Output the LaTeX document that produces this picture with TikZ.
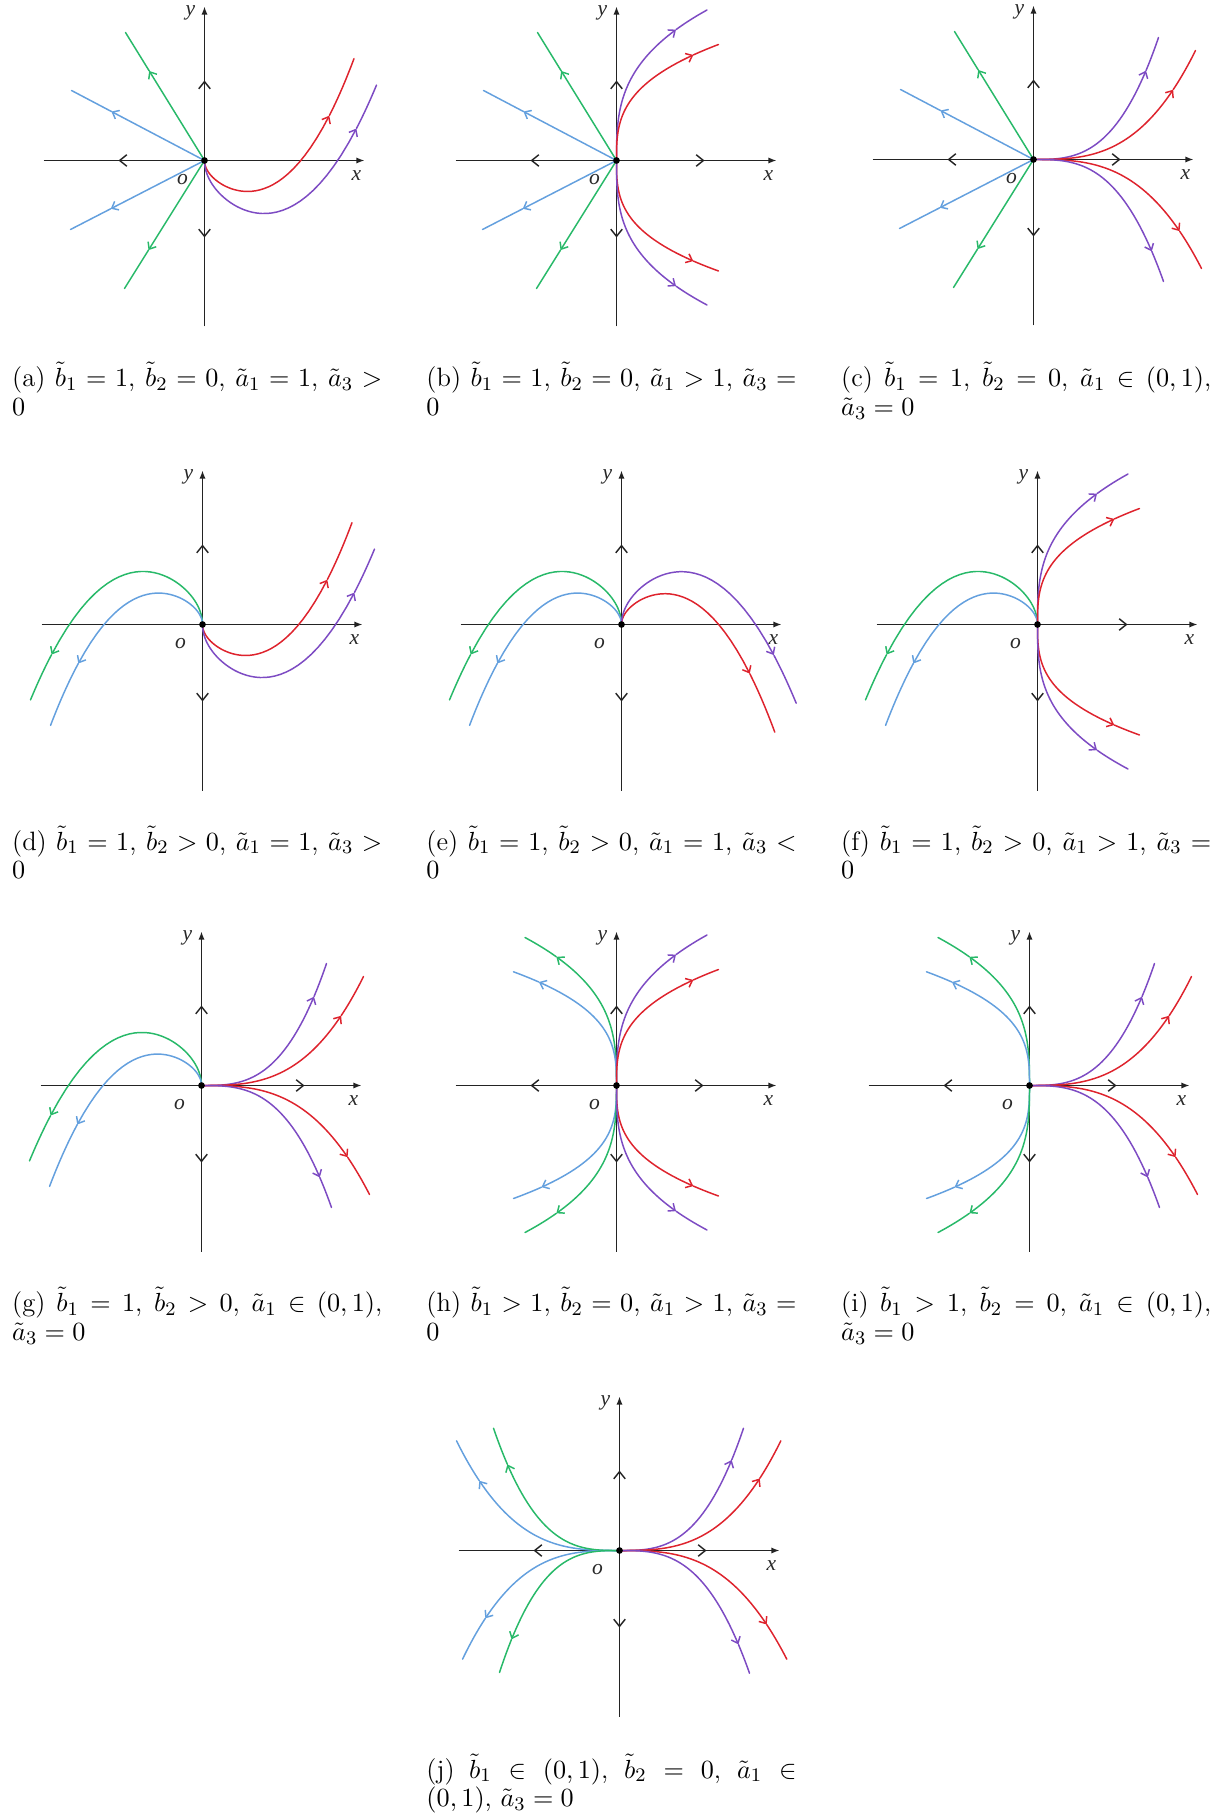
\documentclass[tikz,border=0pt]{standalone}
\usepackage{fontspec}
\newfontfamily\lblf{Liberation Serif}
\usetikzlibrary{arrows.meta}
\definecolor{cgreen}{RGB}{40,185,105}
\definecolor{cblue}{RGB}{100,160,222}
\definecolor{cred}{RGB}{222,35,45}
\definecolor{cpurple}{RGB}{125,75,195}
\definecolor{caxis}{RGB}{35,35,35}
\definecolor{clabel}{RGB}{40,40,40}
\tikzset{
  axisline/.style={draw=caxis, line width=0.6pt},
  crvline/.style={line width=0.62pt, line cap=round},
  midarr/.style={-{Straight Barb[length=3pt,width=4.8pt]}},
  endarr/.style={-{Latex[length=3.4pt,width=2.6pt]}},
  crvarr/.style={-{Straight Barb[length=2.4pt,width=4pt]}},
  lbl/.style={font=\fontsize{9}{10}\lblf\itshape, text=clabel, inner sep=0pt},
  capnode/.style={text width=154.7pt, align=justify, anchor=base west, inner sep=0pt, font=\fontsize{11.1}{12.1}\selectfont},
  odot/.style={circle, fill=black, inner sep=0pt, minimum size=2.8pt},
}
% parametric curve with an arrowhead at parameter #4
\newcommand\crv[4]{%
  \draw[#1,crvline,crvarr] plot[domain=0:#4,samples=40,variable=\t] ({#2},{#3});
  \draw[#1,crvline] plot[domain=#4:1,samples=12,variable=\t] ({#2},{#3});
}
\newcommand\axes[1]{%
  \draw[axisline,endarr] (-161,0) -- (160,0);
  \draw[axisline,endarr] (0,166) -- (0,-154);
  \draw[axisline,midarr] (0,-74) -- (0,-80);
  \draw[axisline,midarr] (0,71) -- (0,77);
  \node[lbl] (#1y) at (-14,-148) {y};
  \node[lbl] (#1x) at (152,15) {x};
  \node[lbl] (#1o) at (-22,19) {o};
}
\newcommand\xlarr{\draw[axisline,midarr] (-80,0) -- (-86,0);}
\newcommand\xrarr[1]{\draw[axisline,midarr] ([xshift=-6*0.418pt]#1,0) -- (#1,0);}
\newcommand\origin[1]{\node[odot] (#1O) at (0,0) {};}
% left straight lines
\newcommand\leftlines{%
  \crv{cgreen}{-79*\t}{-128*\t}{0.7}
  \crv{cgreen}{-80*\t}{128*\t}{0.7}
  \crv{cblue}{-133*\t}{-70*\t}{0.7}
  \crv{cblue}{-134*\t}{69*\t}{0.7}
}
% left humps
\newcommand\lefthumps{%
  \crv{cgreen}{-172*\t*\t}{-(112.7*\t-188.1*\t^5)}{0.937}
  \crv{cblue}{-152*\t*\t}{-(73*\t-174*\t^5)}{0.904}
}
% right check marks
\newcommand\rightchecks{%
  \crv{cred}{149.5*\t*\t}{72.15*\t-174*\t^5}{0.914}
  \crv{cpurple}{172*\t*\t}{112.7*\t-188.1*\t^5}{0.94}
}
% right curves tangent to y axis
\newcommand\rightTY{%
  \crv{cpurple}{90.5*\t^3}{-150.5*\t}{0.87}
  \crv{cred}{102*\t^3}{-116*\t}{0.91}
  \crv{cred}{102*\t^3}{110.5*\t}{0.91}
  \crv{cpurple}{90.5*\t^3}{144.5*\t}{0.87}
}
% left curves tangent to y axis
\newcommand\leftTY{%
  \crv{cgreen}{-91.5*\t^3}{-148*\t}{0.87}
  \crv{cblue}{-103*\t^3}{-113.7*\t}{0.91}
  \crv{cblue}{-103*\t^3}{113*\t}{0.9}
  \crv{cgreen}{-91.5*\t^3}{147*\t}{0.87}
}
% right curves tangent to x axis
\newcommand\rightTX{%
  \crv{cpurple}{125*\t}{-122*\t^3}{0.9}
  \crv{cred}{162*\t}{-109*\t^3}{0.862}
  \crv{cred}{168*\t}{109*\t^3}{0.87}
  \crv{cpurple}{130*\t}{122*\t^3}{0.91}
}
\begin{document}
\begin{tikzpicture}[x=0.418pt,y=-0.418pt]
\useasboundingbox (0,0) rectangle (1225,1815);
% (a)
\begin{scope}[shift={(204.5,160.5)}]
  \axes{a}\xlarr
  \leftlines
  \rightchecks
  \origin{a}
\end{scope}
% (b)
\begin{scope}[shift={(616.5,160.5)}]
  \axes{b}\xlarr\xrarr{88}
  \leftlines
  \rightTY
  \origin{b}
\end{scope}
% (c)
\begin{scope}[shift={(1033.5,159.5)}]
  \axes{c}\xlarr\xrarr{87}
  \leftlines
  \rightTX
  \origin{c}
\end{scope}
% (d)
\begin{scope}[shift={(202.5,624.5)}]
  \axes{d}
  \lefthumps
  \rightchecks
  \origin{d}
\end{scope}
% (e)
\begin{scope}[shift={(621.5,624.5)}]
  \axes{e}
  \lefthumps
  \crv{cred}{153.3*\t*\t}{180*\t^5-72.3*\t}{0.915}
  \crv{cpurple}{174.7*\t*\t}{191.4*\t^5-112.7*\t}{0.934}
  \origin{e}
\end{scope}
% (f)
\begin{scope}[shift={(1037.5,624.5)}]
  \axes{f}\xrarr{90}
  \lefthumps
  \rightTY
  \origin{f}
\end{scope}
% (g)
\begin{scope}[shift={(201.5,1085.5)}]
  \axes{g}\xrarr{103}
  \lefthumps
  \rightTX
  \origin{g}
\end{scope}
% (h)
\begin{scope}[shift={(616.5,1085.5)}]
  \axes{h}\xlarr\xrarr{87}
  \leftTY
  \rightTY
  \origin{h}
\end{scope}
% (i)
\begin{scope}[shift={(1029.5,1085.5)}]
  \axes{i}\xlarr\xrarr{87}
  \leftTY
  \rightTX
  \origin{i}
\end{scope}
% (j)
\begin{scope}[shift={(619.5,1550.5)}]
  \axes{j}\xlarr\xrarr{87}
  \crv{cblue}{-163*\t}{-109.7*\t^3}{0.86}
  \crv{cgreen}{-126*\t}{-122.3*\t^3}{0.89}
  \crv{cblue}{-157*\t}{108.7*\t^3}{0.855}
  \crv{cgreen}{-120*\t}{122*\t^3}{0.9}
  \crv{cpurple}{124*\t}{-122.3*\t^3}{0.905}
  \crv{cred}{161.3*\t}{-109.7*\t^3}{0.87}
  \crv{cred}{167.3*\t}{108.7*\t^3}{0.88}
  \crv{cpurple}{130*\t}{122.7*\t^3}{0.915}
  \origin{j}
\end{scope}
% captions
\node[capnode] (capa) at (11.7,386.7) {(a) $\tilde{b}_1=1$, $\tilde{b}_2=0$, $\tilde{a}_1=1$, $\tilde{a}_3>\linebreak 0$};
\node[capnode] (capb) at (426,386.7) {(b) $\tilde{b}_1=1$, $\tilde{b}_2=0$, $\tilde{a}_1>1$, $\tilde{a}_3=\linebreak 0$};
\node[capnode] (capc) at (840.7,386.7) {(c) $\tilde{b}_1=1$, $\tilde{b}_2=0$, $\tilde{a}_1\in(0,1)$,\linebreak $\tilde{a}_3=0$};
\node[capnode] (capd) at (11.7,850) {(d) $\tilde{b}_1=1$, $\tilde{b}_2>0$, $\tilde{a}_1=1$, $\tilde{a}_3>\linebreak 0$};
\node[capnode] (cape) at (426,850) {(e) $\tilde{b}_1=1$, $\tilde{b}_2>0$, $\tilde{a}_1=1$, $\tilde{a}_3<\linebreak 0$};
\node[capnode] (capf) at (840.7,850) {(f) $\tilde{b}_1=1$, $\tilde{b}_2>0$, $\tilde{a}_1>1$, $\tilde{a}_3=\linebreak 0$};
\node[capnode] (capg) at (11.7,1311.7) {(g) $\tilde{b}_1=1$, $\tilde{b}_2>0$, $\tilde{a}_1\in(0,1)$,\linebreak $\tilde{a}_3=0$};
\node[capnode] (caph) at (426,1311.7) {(h) $\tilde{b}_1>1$, $\tilde{b}_2=0$, $\tilde{a}_1>1$, $\tilde{a}_3=\linebreak 0$};
\node[capnode] (capi) at (840.7,1311.7) {(i) $\tilde{b}_1>1$, $\tilde{b}_2=0$, $\tilde{a}_1\in(0,1)$,\linebreak $\tilde{a}_3=0$};
\node[capnode] (capj) at (426,1778) {(j) $\tilde{b}_1\in(0,1)$, $\tilde{b}_2=0$, $\tilde{a}_1\in\linebreak(0,1)$, $\tilde{a}_3=0$};
\end{tikzpicture}
\end{document}
